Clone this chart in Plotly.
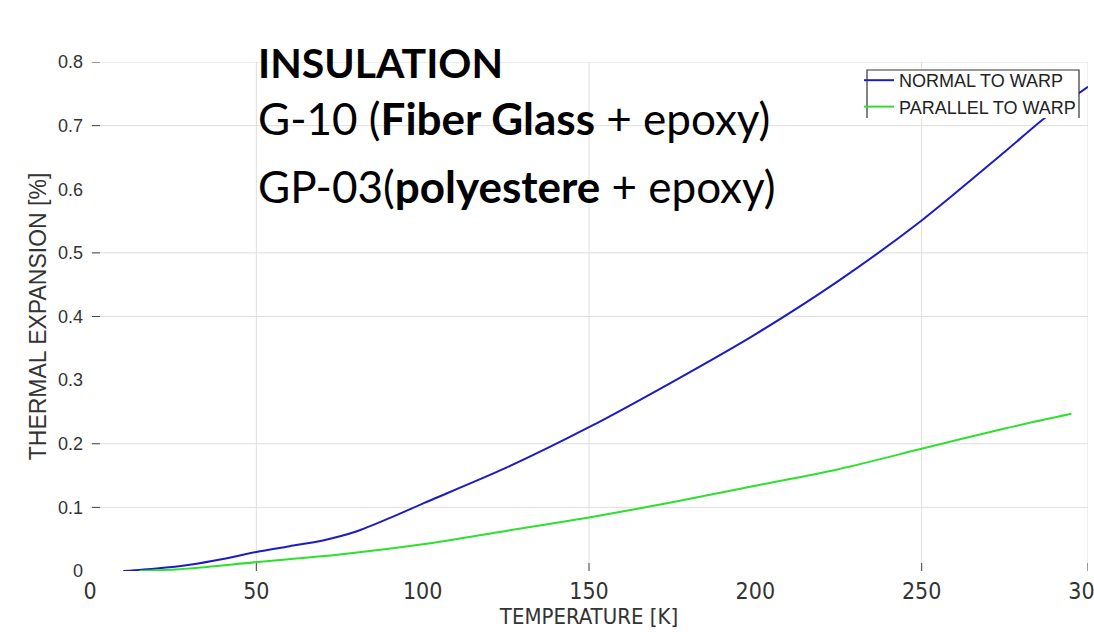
import plotly.graph_objects as go

# ---- data ----
temp_normal = [10, 20, 30, 40, 50, 60, 70, 80, 90, 100, 125, 150, 175, 200, 225, 250, 275, 287, 300]
exp_normal = [0.000, 0.004, 0.010, 0.019, 0.030, 0.039, 0.048, 0.062, 0.083, 0.106, 0.162, 0.226, 0.297,
              0.372, 0.456, 0.551, 0.659, 0.712, 0.761]

temp_parallel = [15, 20, 30, 50, 75, 100, 125, 150, 175, 200, 225, 250, 275, 295]
exp_parallel = [0.000, 0.001, 0.004, 0.014, 0.026, 0.042, 0.063, 0.084, 0.108, 0.134, 0.160, 0.192, 0.224, 0.247]

x_ticks = [0, 50, 100, 150, 200, 250, 300]
x_tick_labels = ["0", "50", "100", "150", "200", "250", "300"]
y_ticks = [0, 0.1, 0.2, 0.3, 0.4, 0.5, 0.6, 0.7, 0.8]
y_tick_labels = ["0", "0.1", "0.2", "0.3", "0.4", "0.5", "0.6", "0.7", "0.8"]
# grid lines / tick marks that are visible in the reference
x_grid = [50, 150, 250, 300]
y_grid = [0.1, 0.2, 0.4, 0.5, 0.7, 0.8]

series_names = ["NORMAL TO WARP", "PARALLEL TO WARP"]
title_lines = ["<b>INSULATION</b>",
               "G-10 (<b>Fiber Glass</b> + epoxy)",
               "GP-03(<b>polyestere</b> + epoxy)"]

W, H = 1094, 640
ML, MR, MT, MB = 90, 6, 62, 69
plot_w = W - ML - MR
plot_h = H - MT - MB

NARROW = "Liberation Sans Narrow, Arial Narrow, DejaVu Sans Condensed, Liberation Sans, sans-serif"
ARIAL = "Liberation Sans, Arial, sans-serif"

fig = go.Figure()
fig.add_trace(go.Scatter(x=temp_normal, y=exp_normal, mode="lines", name=series_names[0],
                         line=dict(color="#1c1cc4", width=2, shape="spline", smoothing=0.8)))
fig.add_trace(go.Scatter(x=temp_parallel, y=exp_parallel, mode="lines", name=series_names[1],
                         line=dict(color="#2ee02e", width=2, shape="spline", smoothing=0.8)))


def px_x(px):
    return (px - ML) / plot_w


def px_y(py):
    return (H - MB - py) / plot_h


shapes = []
for v in x_grid:
    shapes.append(dict(type="line", xref="x", yref="paper", x0=v, x1=v, y0=0, y1=1,
                       line=dict(color="#dedede", width=1), layer="below"))
    shapes.append(dict(type="line", xref="x", yref="paper", x0=v, x1=v, y0=0, y1=8 / plot_h,
                       line=dict(color="#444444", width=1), layer="above"))
for v in y_grid:
    shapes.append(dict(type="line", xref="paper", yref="y", x0=0, x1=1, y0=v, y1=v,
                       line=dict(color="#dedede", width=1), layer="below"))
    shapes.append(dict(type="line", xref="paper", yref="y", x0=2 / plot_w, x1=10 / plot_w, y0=v, y1=v,
                       line=dict(color="#444444", width=1), layer="above"))

# legend frame (white box, open at the bottom as in the reference)
lx0, lx1, ly0, ly1 = px_x(867), px_x(1079), px_y(70), px_y(118)
shapes.append(dict(type="rect", xref="paper", yref="paper", x0=lx0, x1=lx1, y0=ly1, y1=ly0,
                   fillcolor="white", line=dict(width=0), layer="above"))
shapes.append(dict(type="path", xref="paper", yref="paper",
                   path=f"M {lx0} {ly1} L {lx0} {ly0} L {lx1} {ly0} L {lx1} {ly1}",
                   line=dict(color="#333333", width=1.2), layer="above"))

annotations = []
line_centers = [63, 118, 186]
line_sizes = [41, 44, 44]
for txt, cy, fs in zip(title_lines, line_centers, line_sizes):
    annotations.append(dict(text=txt, xref="paper", yref="paper", x=px_x(256), y=px_y(cy),
                            xanchor="left", yanchor="middle", showarrow=False,
                            font=dict(family="Lato, Carlito, sans-serif", size=fs, color="#000000")))

fig.update_layout(
    width=W, height=H,
    margin=dict(l=ML, r=MR, t=MT, b=MB, autoexpand=False),
    paper_bgcolor="white", plot_bgcolor="white",
    showlegend=True,
    legend=dict(x=px_x(859), y=px_y(62), xanchor="left", yanchor="top",
                bgcolor="rgba(0,0,0,0)", borderwidth=0,
                font=dict(family=ARIAL, size=18, color="#222222"),
                itemwidth=30, tracegroupgap=0),
    annotations=annotations,
    shapes=shapes,
    xaxis=dict(range=[0, 300], tickmode="array", tickvals=x_ticks, ticktext=x_tick_labels,
               showgrid=False, zeroline=False, showline=False, ticks="", automargin=False,
               ticklabelstandoff=4, ticklabeloverflow="allow",
               tickfont=dict(family=NARROW, size=23, color="#333333"),
               title=dict(text="TEMPERATURE [K]", standoff=3,
                          font=dict(family=NARROW, size=22, color="#333333"))),
    yaxis=dict(range=[0, 0.8], tickmode="array", tickvals=y_ticks, ticktext=y_tick_labels,
               showgrid=False, zeroline=False, showline=False, ticks="", automargin=False,
               ticklabelstandoff=6,
               tickfont=dict(family=ARIAL, size=18, color="#333333"),
               title=dict(text="THERMAL EXPANSION [%]", standoff=4,
                          font=dict(family=ARIAL, size=23, color="#333333"))),
)

fig.write_html("out.html")
